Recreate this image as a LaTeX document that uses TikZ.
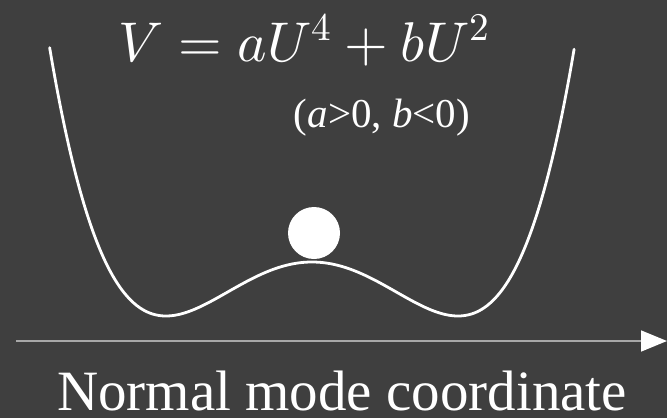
\documentclass[tikz,border=0pt]{standalone}
\usepackage{fontspec}
\setmainfont{Liberation Serif}
\usepackage{unicode-math}
\setmathfont{Latin Modern Math}
\usetikzlibrary{arrows.meta}
\definecolor{bg}{HTML}{3F3F3F}
\definecolor{axisgray}{HTML}{A8A8A8}
\begin{document}
\begin{tikzpicture}[x=1pt,y=-1pt,
  curve/.style={white,line width=2.8pt,line cap=round},
  lbl/.style={text=white,inner sep=0pt}]
\fill[bg] (0,0) rectangle (667,418);
\useasboundingbox (0,0) rectangle (667,418);
\draw[curve,domain=-1.797:1.797,samples=200,smooth,variable=\u]
  plot ({312+146*\u},{262-54*(\u*\u*\u*\u-2*\u*\u)});
\fill[white] (314,233) circle (26);
\draw[axisgray,line width=1.6pt,-{Triangle[length=26pt,width=21pt,color=white]}] (16,341) -- (667,341);
\node[lbl,font=\fontsize{56}{60}\selectfont] (eq) at (304,40) {$V=aU^4+bU^2$};
\node[lbl,font=\fontsize{41}{45}\selectfont] (cond) at (382,118) {(\textit{a}>0, \textit{b}<0)};
\node[lbl,font=\fontsize{57}{61}\selectfont,anchor=base] (xlab) at (342,410) {Normal mode coordinate};
\end{tikzpicture}
\end{document}
